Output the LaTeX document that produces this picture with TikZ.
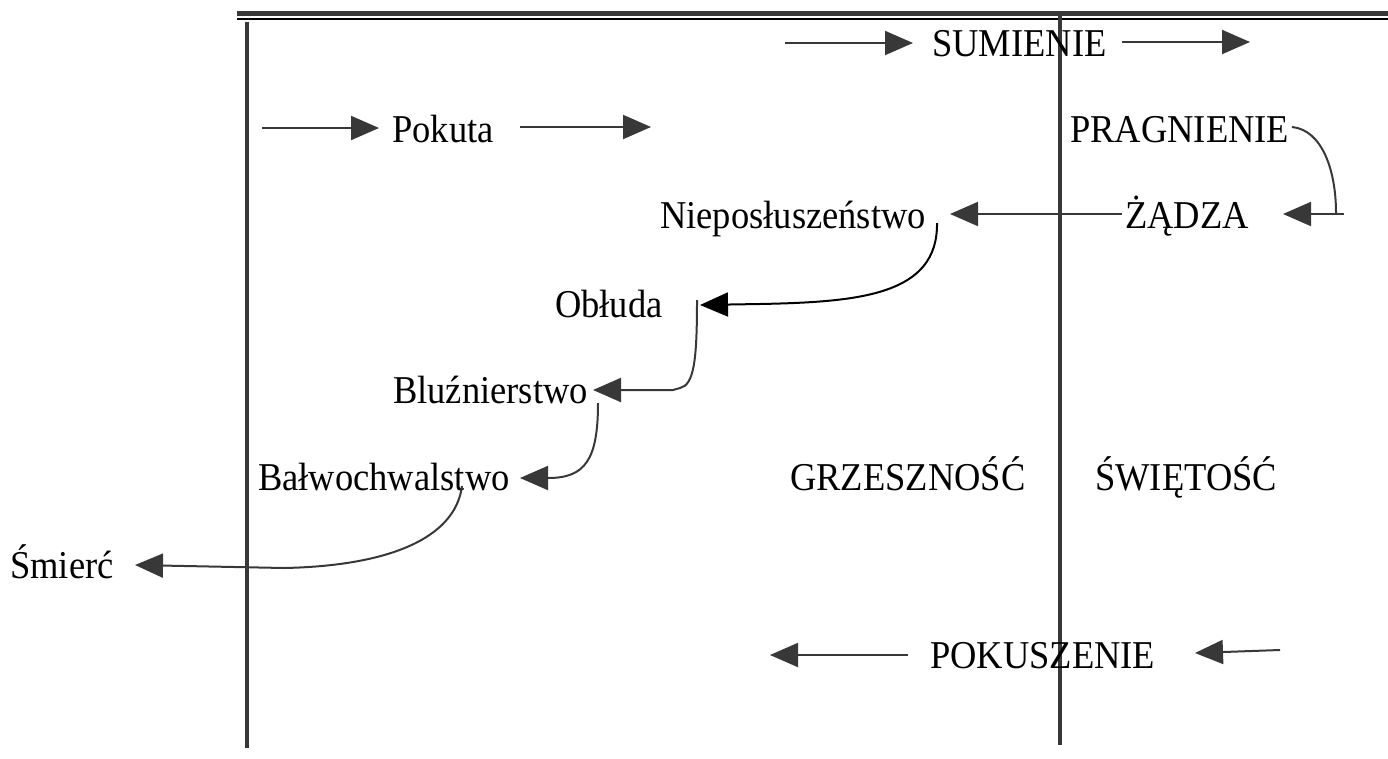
\documentclass[tikz,border=0pt]{standalone}
\usepackage{fontspec}
\setmainfont{Liberation Serif}
\usetikzlibrary{arrows.meta}
\definecolor{ln}{HTML}{383838}
\newcommand{\tall}[1]{\scalebox{1}[1.08]{#1}}
\begin{document}
\begin{tikzpicture}[x=1pt,y=-1pt,
  lbl/.style={anchor=base west,inner sep=0pt,font=\fontsize{36.5}{44}\selectfont},
  con/.style={draw=ln,line width=2pt,-{Triangle[length=28pt,width=24pt]}},
  plain/.style={draw=ln,line width=2pt},
  bar/.style={draw=ln,line width=4pt}]
\path[use as bounding box] (0,0) rectangle (1388,758);
% frame lines
\draw[draw=ln,line width=5pt] (237,13) -- (1388,13);
\draw[black,line width=2.5pt] (237,19) -- (1388,19);
\coordinate (lt) at (247,22);
\coordinate (lb) at (247,748);
\coordinate (rt) at (1060,16);
\coordinate (rb) at (1060,745);
\draw[bar] (lt) -- (lb);
\draw[bar] (rt) -- (rb);
% labels
\node[lbl] (sum) at (932,56) {\tall{SUMIENIE}};
\node[lbl] (pok) at (392,142) {\tall{Pokuta}};
\node[lbl] (prag) at (1070,142) {\tall{PRAGNIENIE}};
\node[lbl] (zad) at (1125,228) {\tall{ŻĄDZA}};
\node[lbl] (niep) at (660,228) {\tall{Nieposłuszeństwo}};
\node[lbl] (obl) at (555,317) {\tall{Obłuda}};
\node[lbl] (blu) at (393,403) {\tall{Bluźnierstwo}};
\node[lbl] (bal) at (258,490) {\tall{Bałwochwalstwo}};
\node[lbl] (grz) at (790,490) {\tall{GRZESZNOŚĆ}};
\node[lbl] (swi) at (1095,490) {\tall{ŚWIĘTOŚĆ}};
\node[lbl] (smi) at (10,578) {\tall{Śmierć}};
\node[lbl] (pks) at (930,668) {\tall{POKUSZENIE}};
% free coordinates
\coordinate (s1) at (785,43);
\coordinate (s2) at (913,43);
\coordinate (s3) at (1122,42);
\coordinate (s4) at (1250,42);
\coordinate (p1) at (262,128);
\coordinate (p2) at (379,128);
\coordinate (p3) at (520,127);
\coordinate (p4) at (651,127);
\coordinate (g1) at (1292,127);
\coordinate (g2) at (1336,213);
\coordinate (g3) at (1344,214);
\coordinate (z1) at (1283,214);
\coordinate (z2) at (1122,214);
\coordinate (n1) at (950,214);
\coordinate (n2) at (937,223);
\coordinate (o1) at (700,305);
\coordinate (o2) at (697,300);
\coordinate (b1) at (593,390);
\coordinate (b2) at (598,403);
\coordinate (w1) at (520,478);
\coordinate (w2) at (462,486);
\coordinate (m1) at (284,568);
\coordinate (m2) at (135,565);
\coordinate (k1) at (908,655);
\coordinate (k2) at (770,655);
\coordinate (k3) at (1280,650);
\coordinate (k4) at (1195,653);
% connectors
\draw[con] (s1) -- (s2);
\draw[con] (s3) -- (s4);
\draw[con] (p1) -- (p2);
\draw[con] (p3) -- (p4);
\draw[plain] (g1) .. controls (1322,130) and (1336,170) .. (g2);
\draw[con] (g3) -- (z1);
\draw[con] (z2) -- (n1);
\draw[con,draw=black] (n2) .. controls (938,295) and (860,302) .. (760,304) -- (o1);
\draw[con] (o2) .. controls (697,360) and (694,385) .. (680,388) -- (673,390) -- (b1);
\draw[con] (b2) .. controls (598,460) and (585,478) .. (548,478) -- (w1);
\draw[con] (w2) .. controls (455,540) and (385,566) .. (m1) -- (m2);
\draw[con] (k1) -- (k2);
\draw[con] (k3) -- (k4);
\end{tikzpicture}
\end{document}
